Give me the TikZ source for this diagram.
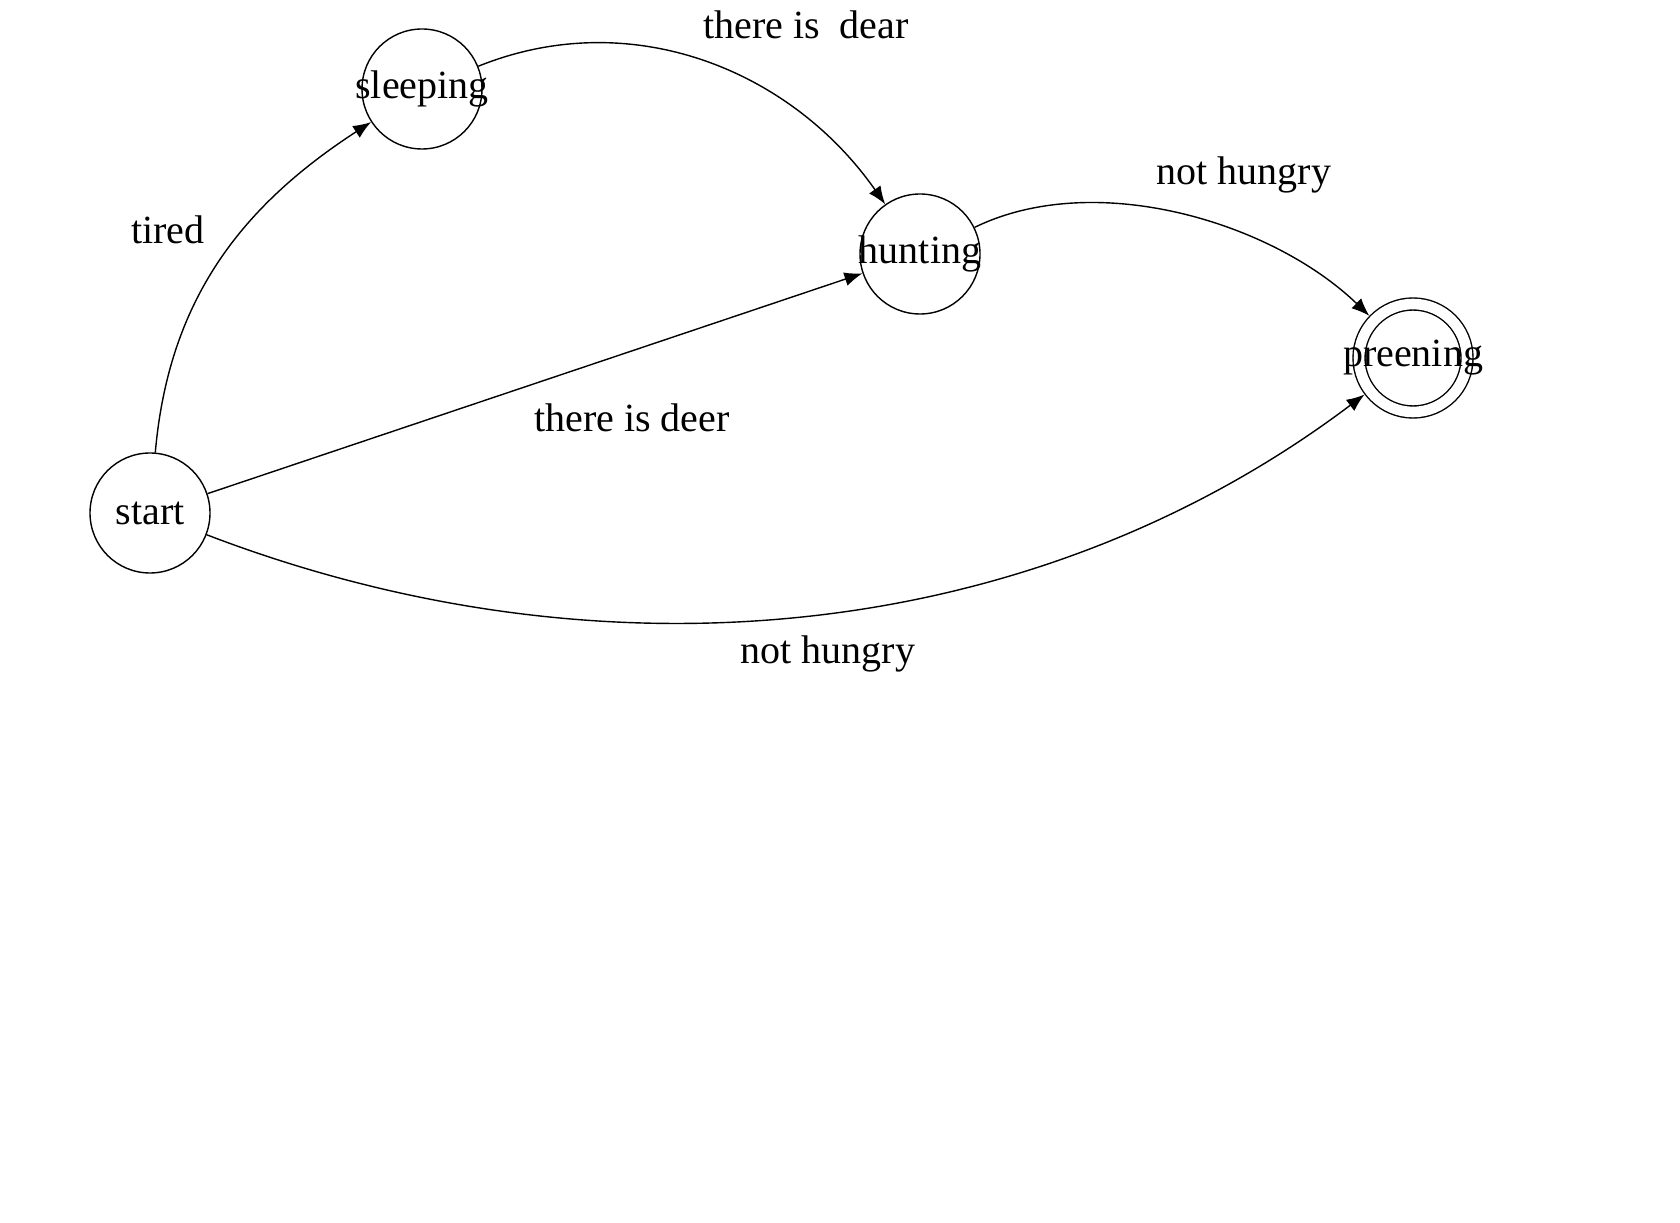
\documentclass[tikz,border=0pt]{standalone}
\usepackage{fontspec}
\setmainfont{Liberation Serif}
\usetikzlibrary{arrows.meta, positioning}

\begin{document}
\begin{tikzpicture}[x=0.5pt, y=0.5pt, >={Latex[length=9pt,width=7pt]}, font=\fontsize{20}{24}\selectfont]

    \tikzstyle{stateNode}=[circle, draw=black, line width=0.7pt, minimum size=60pt, inner sep=0pt]
    \tikzstyle{finalNode}=[stateNode, minimum size=54pt, double, double distance=5.3pt, outer sep=3.35pt]
    \tikzstyle{incoming}=[<-, line width=0.7pt]
    \tikzstyle{edgeLabel}=[inner sep=0pt]

    % Page size
    \useasboundingbox (0, 0) rectangle (1680, 1222);

    % States
    \node at (150, 709)  [stateNode] (start)    {\makebox[0pt]{start}};
    \node at (422, 1133) [stateNode] (sleeping) {\makebox[0pt]{sleeping}}
        edge [incoming, out=213, in=85] (start);
    \node at (920, 968)  [stateNode] (hunting)  {\makebox[0pt]{hunting}}
        edge [incoming] (start)
        edge [incoming, out=125, in=22, looseness=0.98] (sleeping);
    \node at (1413, 864) [finalNode] (preening) {\makebox[0pt]{preening}}
        edge [incoming, out=136, in=26, looseness=0.85] (hunting)
        edge [incoming, out=217, in=-21, looseness=0.92] (start);

    % Transition labels
    \node at (168, 992)  [edgeLabel] (tiredLbl)      {tired};
    \node at (806, 1197) [edgeLabel] (dearLbl)       {there is~~dear};
    \node at (632, 804)  [edgeLabel] (deerLbl)       {there is deer};
    \node at (1244, 1047) [edgeLabel] (notHungryTop) {not hungry};
    \node at (828, 568)  [edgeLabel] (notHungryBot)  {not hungry};

\end{tikzpicture}
\end{document}
